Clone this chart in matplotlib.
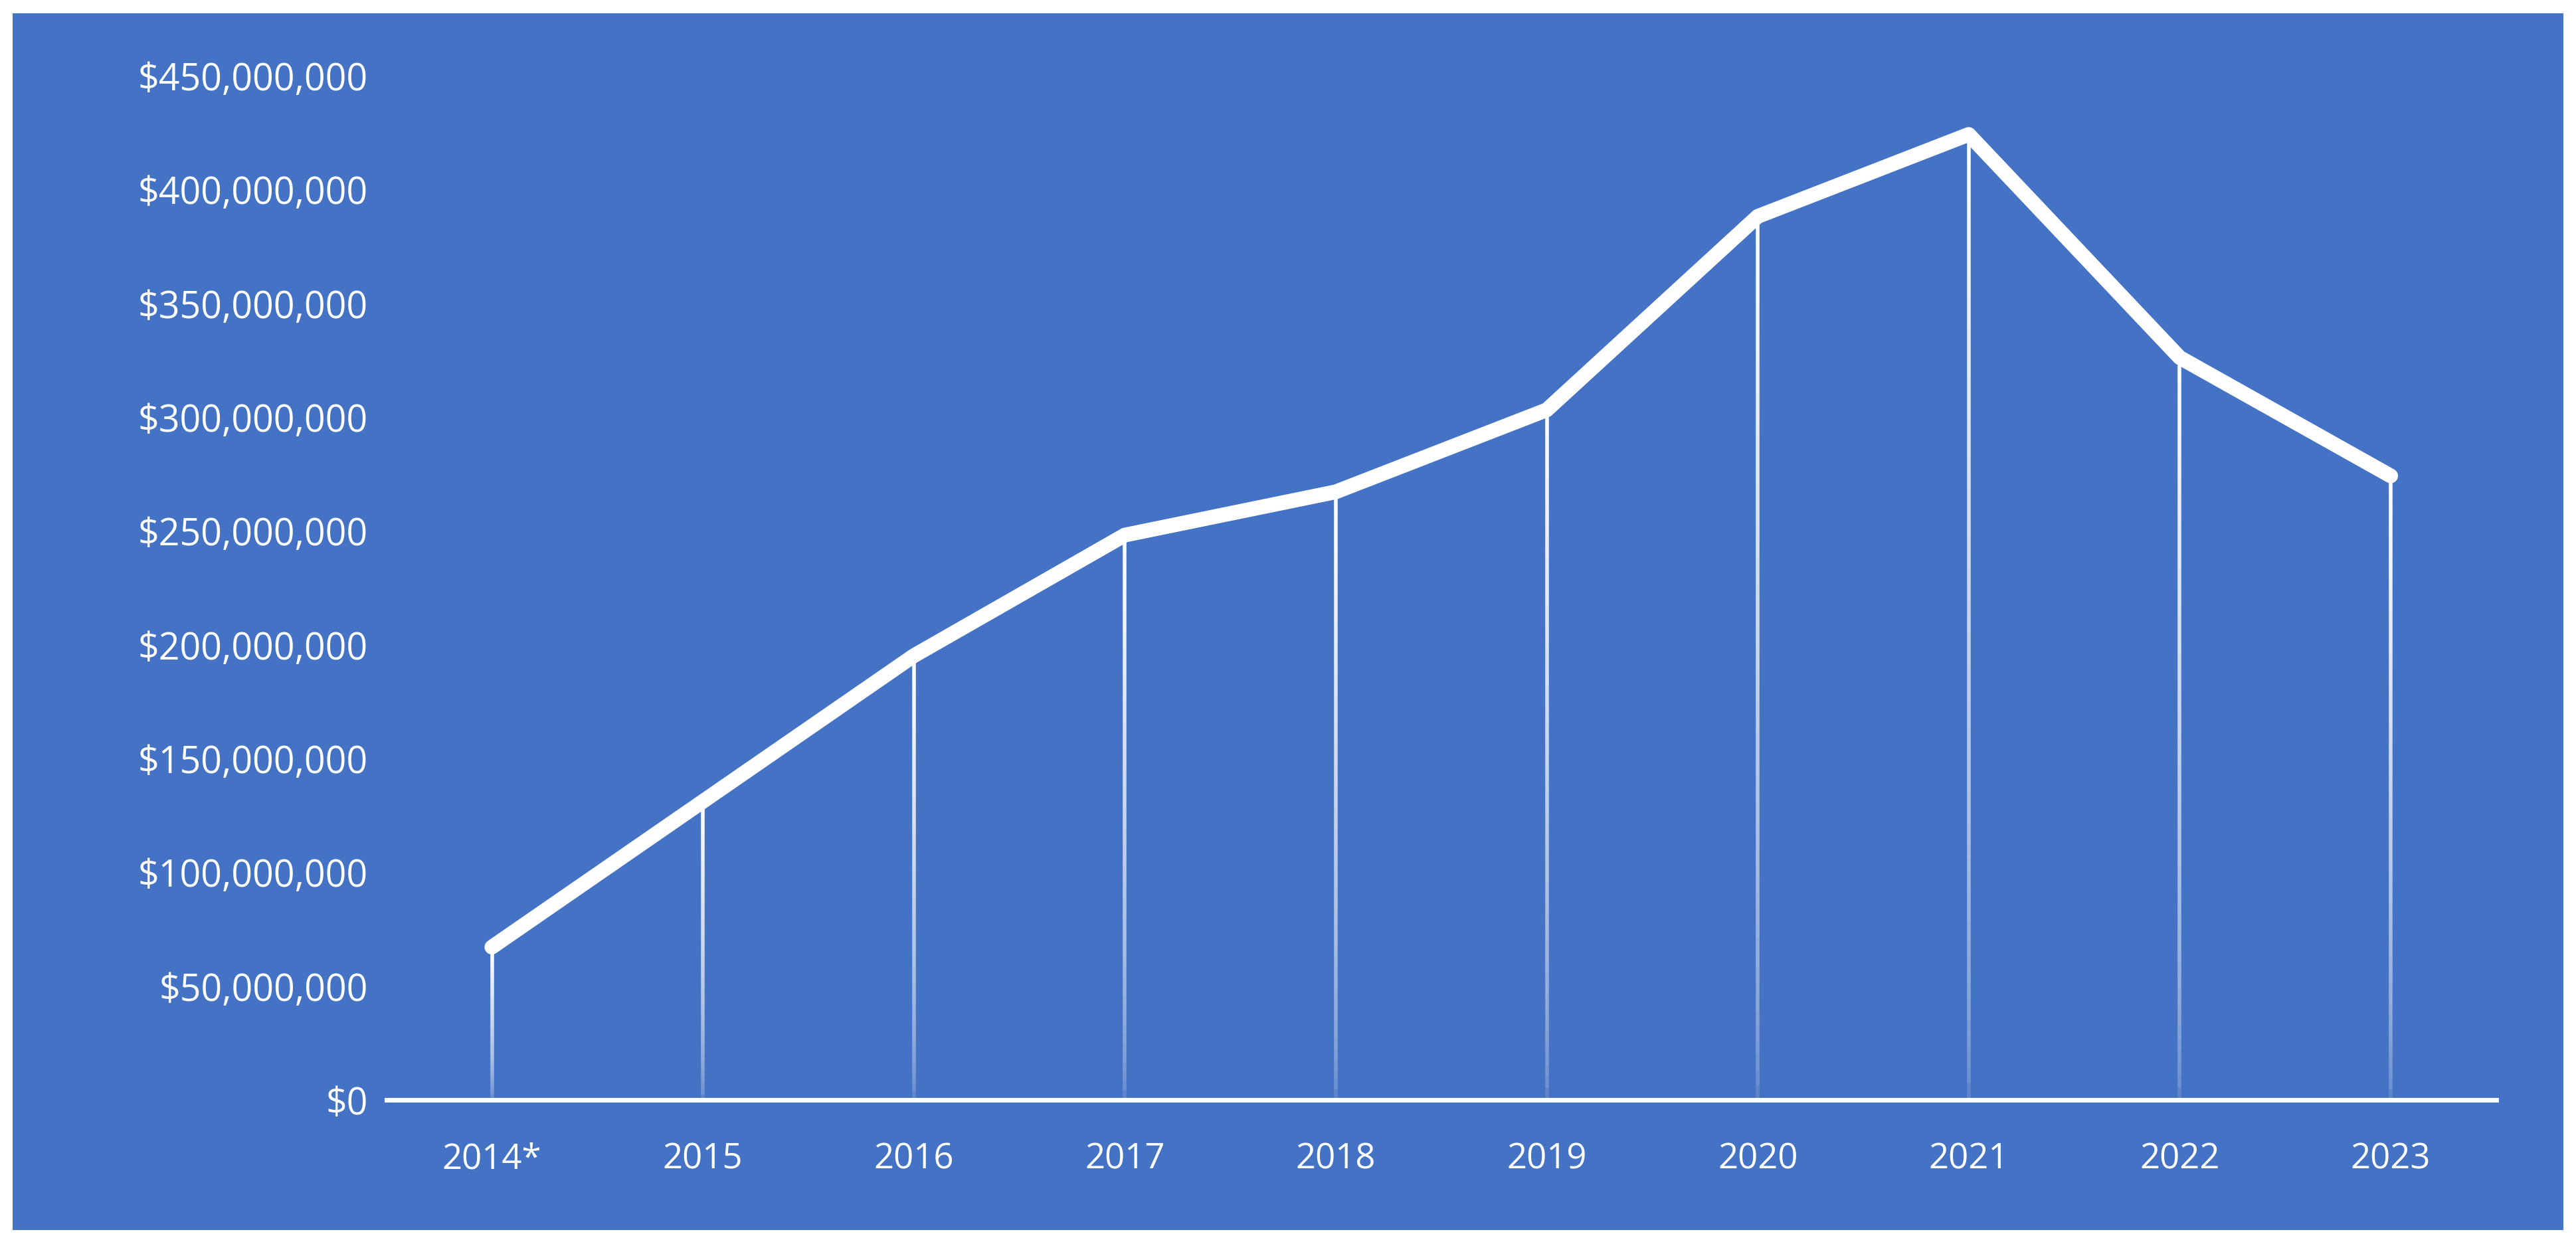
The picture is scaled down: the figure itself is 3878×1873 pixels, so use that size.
import numpy as np
import matplotlib.pyplot as plt
from matplotlib.patches import Rectangle
from matplotlib.ticker import FuncFormatter

years = ["2014*", "2015", "2016", "2017", "2018", "2019", "2020", "2021", "2022", "2023"]
totals = [67e6, 131e6, 195e6, 248e6, 267e6, 303e6, 388e6, 424e6, 326e6, 274e6]

blue = "#4472C4"
plt.rcParams["font.family"] = ["Open Sans", "DejaVu Sans"]

fig = plt.figure(figsize=(38.78, 18.74), dpi=100)
fig.patch.set_facecolor("white")
fig.patches.append(Rectangle((0.005, 0.011), 0.99, 0.978, transform=fig.transFigure,
                             facecolor=blue, edgecolor="none", zorder=-10))

ax = fig.add_axes([0.150, 0.116, 0.819, 0.823])
ax.set_facecolor("none")
x = np.arange(len(years))

# drop lines fading towards the axis
n = 60
for xi, v in zip(x, totals):
    edges = np.linspace(0, v, n + 1)
    for k in range(n):
        a = 0.15 + 0.85 * (k / n) ** 0.6
        ax.plot([xi, xi], [edges[k], edges[k + 1]], color="white", lw=4,
                alpha=a, solid_capstyle="butt", zorder=2)

ax.plot(x, totals, color="white", lw=16, solid_capstyle="round",
        solid_joinstyle="round", zorder=3)

ax.set_xlim(-0.5, len(years) - 0.5)
ax.set_ylim(0, 450e6)
ax.set_yticks(np.arange(0, 450e6 + 1, 50e6))
ax.yaxis.set_major_formatter(FuncFormatter(lambda v, p: f"${v:,.0f}"))
ax.set_xticks(x)
ax.set_xticklabels(years)
for s in ["top", "right", "left"]:
    ax.spines[s].set_visible(False)
ax.spines["bottom"].set_color("white")
ax.spines["bottom"].set_linewidth(5)
ax.tick_params(length=0, colors="white", labelsize=40)
ax.tick_params(axis="x", pad=45)
ax.tick_params(axis="y", pad=20)
for lab in ax.get_xticklabels():
    lab.set_fontsize(38)

fig.savefig("out.png", dpi=100)
